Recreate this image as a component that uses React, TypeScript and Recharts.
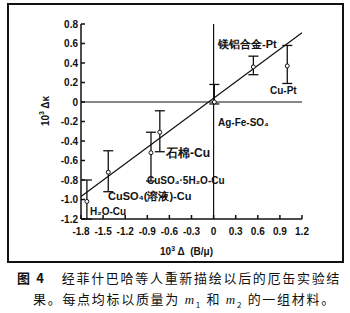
import { ComposedChart, Scatter, ErrorBar, XAxis, YAxis, ReferenceLine } from "recharts"

// measured points (10^3 Δ(B/μ), 10^3 Δκ)
const materials = ["H₂O-Cu", "CuSO₄(溶液)-Cu", "CuSO₄·5H₂O-Cu", "石棉-Cu", "Ag-Fe-SO₄", "镁铝合金-Pt", "Cu-Pt"]
const deltaX = [-1.72, -1.43, -0.85, -0.73, 0.01, 0.54, 1.0]
const deltaK = [-1.02, -0.72, -0.52, -0.31, 0.0, 0.36, 0.37]
const errDown = [0.18, 0.2, 0.29, 0.2, 0.02, 0.08, 0.18]
const errUp = [0.22, 0.22, 0.21, 0.22, 0.18, 0.11, 0.21]

const fitLine = [
  { x: -1.8, y: -0.97 },
  { x: 1.2, y: 0.71 },
]

const xTicks = [-1.8, -1.5, -1.2, -0.9, -0.6, -0.3, 0, 0.3, 0.6, 0.9, 1.2]
const yTicks = [0.8, 0.6, 0.4, 0.2, 0, -0.2, -0.4, -0.6, -0.8, -1.0, -1.2]

const points = materials.map((name, i) => ({
  name,
  x: deltaX[i],
  y: deltaK[i],
  err: [errDown[i], errUp[i]],
}))

const fmt = (v: number) => (v === 0 ? "0" : v.toFixed(1))

const tickFont = { fontSize: 10, fontFamily: "Liberation Sans", fontWeight: "bold", fill: "#111" }
const noteFont: any = { position: "absolute", fontFamily: "Liberation Sans", fontWeight: "bold", fontSize: 10, color: "#111", whiteSpace: "nowrap", lineHeight: "12px" }

export default function App() {
  return (
    <div style={{ position: "absolute", left: 0, top: 0, width: 350, height: 313, background: "#fff" }}>
      <div style={{ position: "absolute", left: 7, top: 3, width: 333, height: 256, border: "2px solid #111" }} />
      <div style={{ position: "absolute", left: 0, top: 0 }}>
        <ComposedChart width={350} height={313} margin={{ top: 24, right: 48, bottom: 74, left: 41 }}>
          <XAxis
            dataKey="x"
            type="number"
            domain={[-1.8, 1.2]}
            ticks={xTicks}
            tickFormatter={fmt}
            height={20}
            tickSize={-4}
            tickMargin={13}
            tick={tickFont}
            stroke="#111"
            strokeWidth={1.5}
          />
          <XAxis
            xAxisId="top"
            orientation="top"
            dataKey="x"
            type="number"
            domain={[-1.8, 1.2]}
            ticks={xTicks}
            height={0}
            tickSize={-4}
            tick={false}
            stroke="#111"
            strokeWidth={1.5}
          />
          <YAxis
            dataKey="y"
            type="number"
            domain={[-1.2, 0.8]}
            ticks={yTicks}
            tickFormatter={fmt}
            width={40}
            tickSize={-4}
            tickMargin={7}
            tick={tickFont}
            stroke="#111"
            strokeWidth={1.5}
          />
          <YAxis
            yAxisId="r"
            orientation="right"
            dataKey="y"
            type="number"
            domain={[-1.2, 0.8]}
            ticks={yTicks}
            width={0}
            tickSize={-4}
            tick={false}
            stroke="#111"
            strokeWidth={1.5}
          />
          <ReferenceLine y={0} stroke="#111" strokeWidth={1.2} />
          <ReferenceLine x={0} stroke="#111" strokeWidth={1.2} />
          <ReferenceLine segment={fitLine} stroke="#111" strokeWidth={1.2} />
          <Scatter
            data={points}
            isAnimationActive={false}
            shape={(p: any) => <circle cx={p.cx} cy={p.cy} r={2} fill="#fff" stroke="#111" strokeWidth={1} />}
          >
            <ErrorBar dataKey="err" direction="y" width={5} stroke="#111" strokeWidth={1.3} isAnimationActive={false} />
          </Scatter>
        </ComposedChart>
      </div>

      <div style={{ ...noteFont, left: 44, top: 111, transform: "translate(-50%,-50%) rotate(-90deg)" }}>
        10<sup style={{ fontSize: 7 }}>3</sup> Δκ
      </div>
      <div style={{ ...noteFont, left: 160, top: 243 }}>
        10<sup style={{ fontSize: 7 }}>3</sup> Δ&nbsp;&nbsp;(B/μ)
      </div>

      <div style={{ ...noteFont, left: 218, top: 38, fontSize: 11 }}>镁铝合金-Pt</div>
      <div style={{ ...noteFont, left: 270, top: 85 }}>Cu-Pt</div>
      <div style={{ ...noteFont, left: 218, top: 117 }}>Ag-Fe-SO₄</div>
      <div style={{ ...noteFont, left: 166, top: 147, fontSize: 12 }}>石棉-Cu</div>
      <div style={{ ...noteFont, left: 147, top: 175 }}>CuSO₄·5H₂O-Cu</div>
      <div style={{ ...noteFont, left: 108, top: 190, fontSize: 11 }}>CuSO₄(溶液)-Cu</div>
      <div style={{ ...noteFont, left: 90, top: 206 }}>H₂O-Cu</div>

      <div style={{ position: "absolute", left: 17, top: 268, fontFamily: "Noto Sans CJK SC", fontSize: 13, letterSpacing: 1.7, whiteSpace: "nowrap", color: "#111" }}>
        <b>图 4</b>
        <span style={{ marginLeft: 16 }}>经菲什巴哈等人重新描绘以后的厄缶实验结</span>
      </div>
      <div style={{ position: "absolute", left: 33, top: 289, fontFamily: "Noto Sans CJK SC", fontSize: 13, letterSpacing: 1.7, whiteSpace: "nowrap", color: "#111" }}>
        果。每点均标以质量为 <i style={{ fontFamily: "Liberation Serif" }}>m</i><sub style={{ fontSize: 8 }}>1</sub> 和 <i style={{ fontFamily: "Liberation Serif" }}>m</i><sub style={{ fontSize: 8 }}>2</sub> 的一组材料。
      </div>
    </div>
  )
}
